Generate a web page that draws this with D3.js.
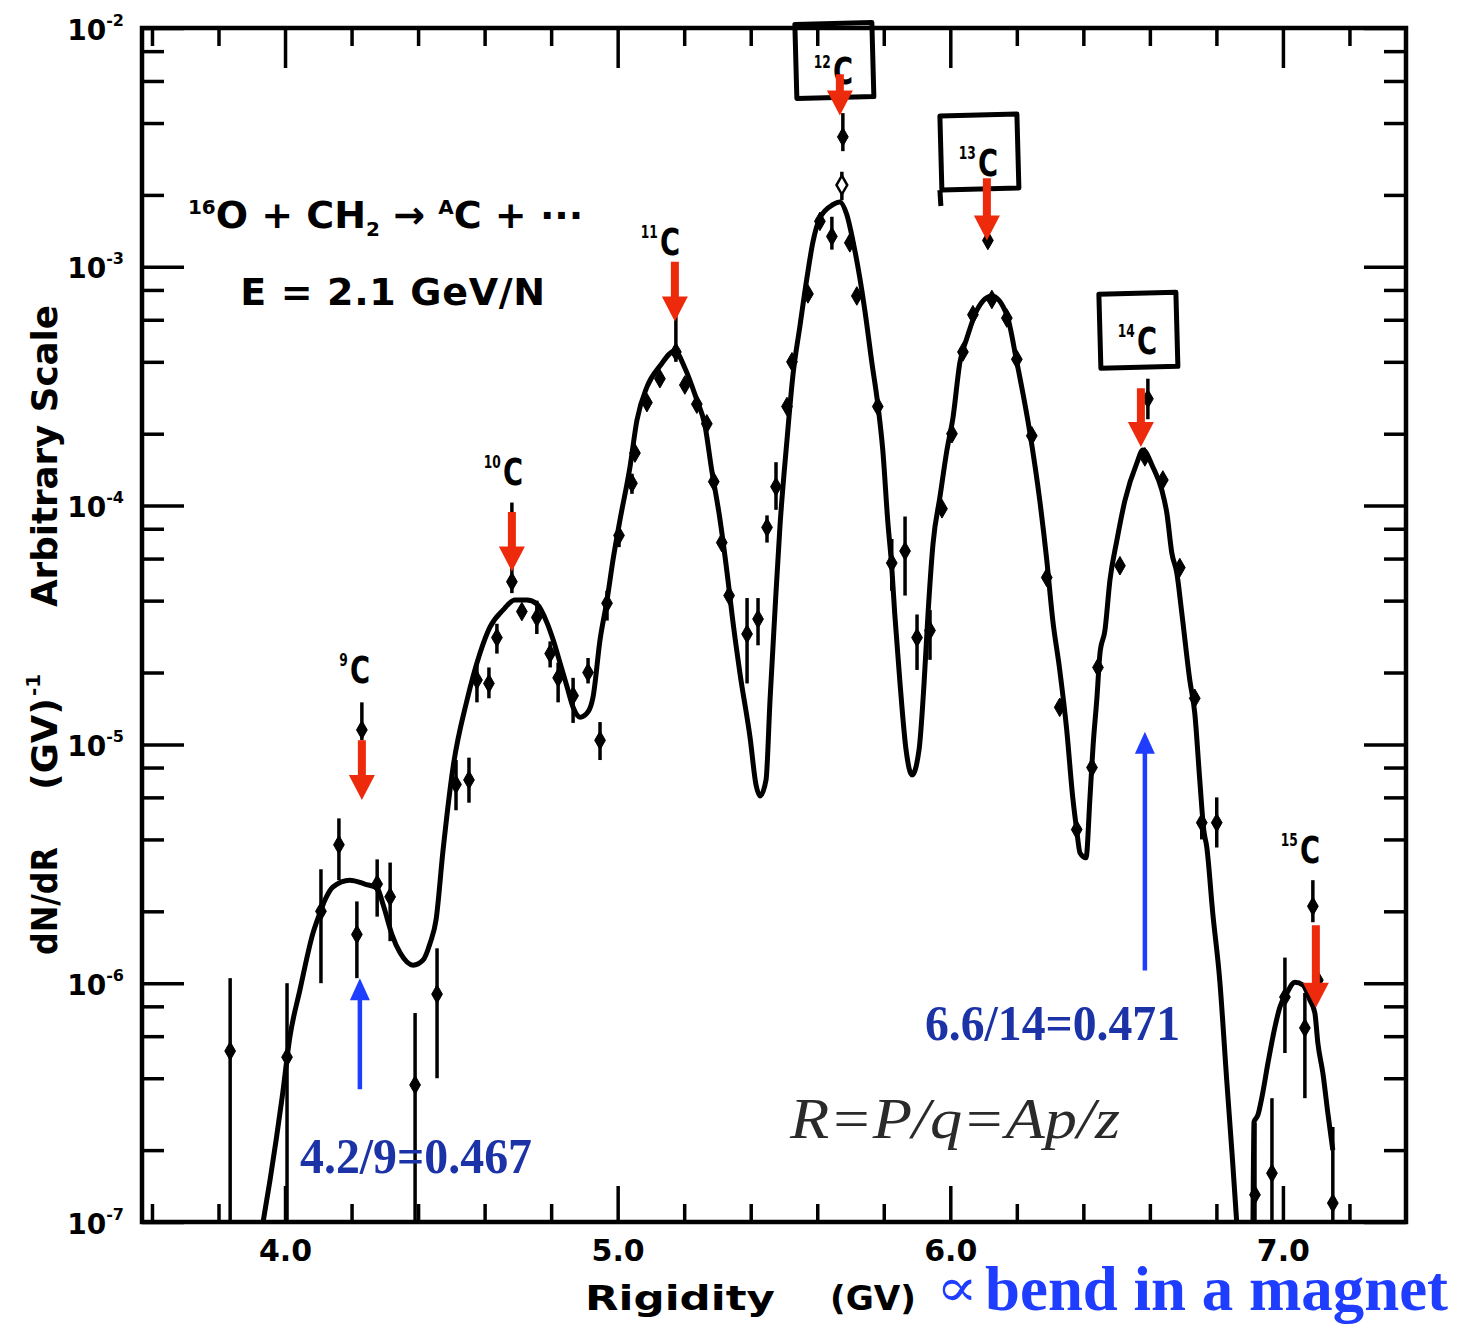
<!DOCTYPE html>
<html>
<head>
<meta charset="utf-8">
<script src="https://cdn.jsdelivr.net/npm/d3@7"></script>
<style>
  body { margin: 0; background: #fff; }
  svg { display: block; }
</style>
</head>
<body>
<div id="chart"></div>
<script>
// ---- data (rigidity in GV, dN/dR arbitrary) ----
const curveR = [3.934,3.955,3.991,4.015,4.045,4.084,4.105,4.120,4.144,4.195,4.240,4.277,4.295,4.322,4.346,4.385,4.415,4.436,4.454,4.475,
  4.505,4.547,4.586,4.616,4.655,4.691,4.727,4.757,4.788,4.806,4.827,4.848,4.866,4.887,4.911,4.926,4.947,4.968,4.986,5.007,
  5.037,5.058,5.088,5.127,5.172,5.202,5.238,5.262,5.283,5.307,5.332,5.344,5.368,5.398,5.416,5.428,5.446,5.458,5.473,5.488,
  5.509,5.527,5.548,5.569,5.587,5.608,5.647,5.668,5.689,5.707,5.728,5.743,5.764,5.782,5.797,5.812,5.824,5.833,5.849,5.867,
  5.885,5.906,5.921,5.933,5.948,5.969,5.990,6.008,6.029,6.050,6.080,6.125,6.170,6.200,6.239,6.269,6.290,6.308,6.329,6.350,
  6.368,6.380,6.390,6.408,6.420,6.429,6.441,6.450,6.465,6.480,6.501,6.525,6.561,6.579,6.609,6.636,6.651,6.666,6.681,6.696,
  6.720,6.735,6.750,6.762,6.771,6.789,6.810,6.831,6.849,6.861];
const curveV = [1.0e-7,1.5e-7,3.3e-7,6.0e-7,9.4e-7,1.62e-6,1.97e-6,2.23e-6,2.53e-6,2.70e-6,2.60e-6,2.50e-6,2.13e-6,1.59e-6,1.34e-6,1.19e-6,1.25e-6,1.47e-6,1.84e-6,3.6e-6,
  8.0e-6,1.53e-5,2.41e-5,3.10e-5,3.65e-5,4.02e-5,4.02e-5,3.87e-5,3.22e-5,2.74e-5,2.19e-5,1.74e-5,1.43e-5,1.30e-5,1.37e-5,1.58e-5,2.74e-5,4.02e-5,5.92e-5,8.71e-5,
  1.45e-4,2.28e-4,3.14e-4,3.84e-4,4.44e-4,3.77e-4,2.77e-4,2.18e-4,1.40e-4,8.87e-5,4.83e-5,3.48e-5,1.97e-5,1.07e-5,6.76e-6,6.08e-6,7.09e-6,1.53e-5,3.65e-5,8.22e-5,
  1.88e-4,3.52e-4,5.65e-4,8.98e-4,1.27e-3,1.60e-3,1.82e-3,1.87e-3,1.65e-3,1.29e-3,8.98e-4,6.59e-4,3.99e-4,2.66e-4,1.71e-4,8.62e-5,5.53e-5,3.52e-5,1.79e-5,9.48e-6,
  7.44e-6,9.48e-6,1.79e-5,3.52e-5,6.91e-5,1.09e-4,1.71e-4,2.33e-4,3.99e-4,5.03e-4,6.59e-4,7.55e-4,6.29e-4,3.99e-4,2.03e-4,1.05e-4,5.92e-5,3.32e-5,2.05e-5,1.15e-5,
  6.02e-6,4.38e-6,3.51e-6,3.35e-6,6.02e-6,9.75e-6,1.58e-5,2.41e-5,3.01e-5,4.88e-5,7.18e-5,1.05e-4,1.51e-4,1.71e-4,1.45e-4,1.16e-4,9.31e-5,6.33e-5,5.22e-5,3.55e-5,
  1.86e-5,1.35e-5,7.09e-6,4.38e-6,3.72e-6,1.97e-6,1.03e-6,3.93e-7,1.77e-7,1.0e-7];

// separate fitted curve under the 15C peak
const c15R = [6.910,6.913,6.925,6.937,6.955,6.976,6.991,7.012,7.036,7.060,7.081,7.096,7.105,7.120,7.135,7.150];
const c15V = [1.0e-7,2.62e-7,2.81e-7,3.34e-7,4.63e-7,6.56e-7,7.95e-7,9.10e-7,1.01e-6,9.83e-7,8.51e-7,7.50e-7,5.62e-7,4.21e-7,2.86e-7,2.0e-7];

// measured points with error bars (null = bar hidden by the marker)
const pointR = [3.835,4.006,4.108,4.162,4.216,4.231,4.277,4.316,4.391,4.457,4.514,4.553,4.577,4.613,4.637,4.682,4.712,4.757,4.797,4.821,
  4.866,4.911,4.947,4.968,5.004,5.043,5.052,5.088,5.127,5.175,5.202,5.238,5.268,5.289,5.313,5.335,5.389,5.422,5.449,5.476,
  5.509,5.524,5.572,5.608,5.644,5.674,5.677,5.698,5.719,5.782,5.824,5.864,5.900,5.939,5.975,6.005,6.038,6.068,6.125,6.113,
  6.170,6.200,6.245,6.290,6.329,6.380,6.426,6.444,6.510,6.585,6.594,6.639,6.690,6.735,6.756,6.801,7.090,7.006,7.066,6.916,
  6.967,7.150,7.105];
const pointV = [5.2e-7,4.9e-7,2.0e-6,3.8e-6,1.6e-6,1.15e-5,2.6e-6,2.3e-6,3.75e-7,9.0e-7,6.8e-6,7.1e-6,1.86e-5,1.8e-5,2.8e-5,4.8e-5,3.6e-5,3.4e-5,2.4e-5,1.9e-5,
  1.6e-5,2.0e-5,1.04e-5,3.9e-5,7.5e-5,1.24e-4,1.66e-4,2.7e-4,3.4e-4,4.4e-4,3.2e-4,2.66e-4,2.2e-4,1.26e-4,7.0e-5,4.2e-5,2.9e-5,3.35e-5,8.1e-5,1.2e-4,
  2.6e-4,4.0e-4,7.7e-4,1.55e-3,1.34e-3,2.2e-3,3.5e-3,1.26e-3,7.55e-4,2.6e-4,5.75e-5,6.45e-5,2.8e-5,3.0e-5,9.7e-5,2.0e-4,4.4e-4,6.3e-4,7.3e-4,1.29e-3,
  6.1e-4,4.1e-4,1.96e-4,5.0e-5,1.43e-5,4.4e-6,8.0e-6,2.1e-5,5.6e-5,1.6e-4,2.8e-4,1.28e-4,5.5e-5,1.56e-5,4.7e-6,4.7e-6,2.1e-6,8.75e-7,6.5e-7,1.3e-7,
  1.6e-7,1.2e-7,1.03e-6];
const barTop = [1.05e-6,1.0e-6,3.0e-6,4.9e-6,2.2e-6,1.5e-5,3.3e-6,3.2e-6,7.5e-7,1.4e-6,8.6e-6,8.8e-6,2.2e-5,2.1e-5,3.2e-5,1.03e-4,null,4.0e-5,2.7e-5,2.2e-5,
  1.9e-5,2.3e-5,1.24e-5,4.4e-5,8.1e-5,1.36e-4,null,null,null,8.8e-4,null,null,null,null,null,null,4.1e-5,4.1e-5,9.1e-5,1.52e-4,
  null,null,null,null,1.62e-3,2.5e-3,4.4e-3,null,null,null,7.25e-5,9.0e-5,3.5e-5,3.65e-5,null,null,null,null,null,null,
  null,null,null,null,null,null,null,null,null,null,3.4e-4,null,null,null,5.3e-6,6.0e-6,2.7e-6,1.28e-6,9.1e-7,2.6e-7,
  3.3e-7,2.5e-7,null];
const barBottom = [1.0e-7,1.0e-7,1.0e-6,2.7e-6,1.05e-6,1.04e-5,1.9e-6,1.5e-6,1.0e-7,4.0e-7,5.3e-6,5.7e-6,1.5e-5,1.56e-5,2.4e-5,4.3e-5,null,2.9e-5,2.1e-5,1.5e-5,
  1.23e-5,1.8e-5,8.6e-6,3.3e-5,6.7e-5,1.12e-4,null,null,null,4.0e-4,null,null,null,null,null,null,1.8e-5,2.6e-5,7.0e-5,9.6e-5,
  null,null,null,null,1.18e-3,1.9e-3,3.05e-3,null,null,null,4.4e-5,4.2e-5,2.05e-5,2.26e-5,null,null,null,null,null,null,
  null,null,null,null,null,null,null,null,null,null,2.3e-4,null,null,null,4.0e-6,3.7e-6,1.8e-6,5.1e-7,3.3e-7,1.0e-7,
  1.0e-7,1.0e-7,null];
const openPoints = [45];   // index of the hollow marker below the 12C point

// axes
const xMajor = [4.0, 5.0, 6.0, 7.0];
const xMinor = [3.6,3.8,4.2,4.4,4.6,4.8,5.2,5.4,5.6,5.8,6.2,6.4,6.6,6.8,7.2];
const yMajor = [1e-7, 1e-6, 1e-5, 1e-4, 1e-3, 1e-2];
const yExp = ["7", "6", "5", "4", "3", "2"];
const yMinor = [2e-7,4e-7,6e-7,8e-7,2e-6,4e-6,6e-6,8e-6,2e-5,4e-5,6e-5,8e-5,2e-4,4e-4,6e-4,8e-4,2e-3,4e-3,6e-3,8e-3];

// carbon isotope labels and red arrows
const isoMass = ["9", "10", "11", "12", "13", "14", "15"];
const isoLabelR = [4.225, 4.685, 5.157, 5.677, 6.113, 6.591, 7.081];
const isoLabelV = [1.8e-5, 1.22e-4, 1.12e-3, 5.8e-3, 2.4e-3, 4.3e-4, 3.2e-6];
const isoBoxed = [false, false, false, true, true, true, false];
const redR = [4.231, 4.682, 5.172, 5.668, 6.110, 6.573, 7.099];
const redTop = [1.04e-5, 9.4e-5, 1.05e-3, 6.4e-3, 2.35e-3, 3.1e-4, 1.75e-6];
const redTip = [5.85e-6, 5.3e-5, 5.9e-4, 4.3e-3, 1.29e-3, 1.76e-4, 7.9e-7];

// blue ratio notes
const blueR = [4.225, 6.585];
const blueBase = [3.6e-7, 1.13e-6];
const blueTip = [1.05e-6, 1.13e-5];
const ratioText = ["4.2/9=0.467", "6.6/14=0.471"];
const ratioR = [4.045, 5.924];
const ratioV = [1.6e-7, 5.8e-7];

// ---- layout ----
const W = 1458, H = 1324;
const margin = {top: 28, right: 52, bottom: 102, left: 142};
const width = W - margin.left - margin.right,
      height = H - margin.top - margin.bottom;
const sans = "'DejaVu Sans', Verdana, sans-serif";
const serif = "'Liberation Serif', 'Times New Roman', serif";

const svg = d3.select("#chart").append("svg")
  .attr("width", W).attr("height", H)
  .style("background", "#fff");
const g = svg.append("g").attr("transform", `translate(${margin.left},${margin.top})`);

const x = d3.scaleLinear().domain([3.57, 7.37]).range([0, width]);
const y = d3.scaleLog().domain([1e-7, 1e-2]).range([height, 0]);

// ticks on all four sides, pointing inward
function ticks(axis, tf) {
  const a = g.append("g").attr("class", "axis").attr("transform", tf || null).call(axis);
  a.select(".domain").remove();
  a.selectAll("line").attr("stroke", "#000").attr("stroke-width", 3.5);
  return a;
}
ticks(d3.axisBottom(x).tickValues(xMinor).tickSize(-18).tickFormat(""), `translate(0,${height})`);
const xb = ticks(d3.axisBottom(x).tickValues(xMajor).tickSize(-36).tickPadding(18).tickFormat(d3.format(".1f")), `translate(0,${height})`);
xb.selectAll("text").attr("font-family", sans).attr("font-weight", "bold").attr("font-size", 30).attr("fill", "#000");
ticks(d3.axisTop(x).tickValues(xMinor).tickSize(-18).tickFormat(""));
ticks(d3.axisTop(x).tickValues(xMajor).tickSize(-40).tickFormat(""));
ticks(d3.axisLeft(y).tickValues(yMinor).tickSize(-22).tickFormat(""));
const yl = ticks(d3.axisLeft(y).tickValues(yMajor).tickSize(-42).tickFormat(""));
ticks(d3.axisRight(y).tickValues(yMinor).tickSize(-22).tickFormat(""), `translate(${width},0)`);
ticks(d3.axisRight(y).tickValues(yMajor).tickSize(-42).tickFormat(""), `translate(${width},0)`);

// decade labels 10^-n
yl.selectAll(".tick").each(function(d, i) {
  const t = d3.select(this).append("text")
    .attr("x", -18).attr("y", 11)
    .attr("text-anchor", "end")
    .attr("font-family", sans).attr("font-weight", "bold")
    .attr("font-size", 28).attr("fill", "#000");
  t.append("tspan").text("10");
  t.append("tspan").attr("font-size", 16).attr("dy", -14).text("-" + yExp[i]);
});

// frame
g.append("rect").attr("width", width).attr("height", height)
  .attr("fill", "none").attr("stroke", "#000").attr("stroke-width", 4.5);

// fitted curves
const line = d3.line().x(d => x(d[0])).y(d => y(d[1])).curve(d3.curveMonotoneX);
g.append("path").datum(d3.zip(curveR, curveV))
  .attr("d", line).attr("fill", "none").attr("stroke", "#000")
  .attr("stroke-width", 5).attr("stroke-linejoin", "round");
g.append("path").datum(d3.zip(c15R, c15V))
  .attr("d", line).attr("fill", "none").attr("stroke", "#000")
  .attr("stroke-width", 5).attr("stroke-linejoin", "round");

// error bars
const pts = pointR.map((r, i) => ({r, v: pointV[i], hi: barTop[i], lo: barBottom[i], open: openPoints.includes(i)}));
g.append("g").selectAll("line").data(pts.filter(d => d.hi !== null)).enter().append("line")
  .attr("x1", d => x(d.r)).attr("x2", d => x(d.r))
  .attr("y1", d => y(d.hi)).attr("y2", d => y(d.lo))
  .attr("stroke", "#000").attr("stroke-width", 3.5);

// markers
g.append("g").selectAll("path").data(pts).enter().append("path")
  .attr("transform", d => `translate(${x(d.r)},${y(d.v)})`)
  .attr("d", d3.symbol(d3.symbolDiamond).size(100))
  .attr("fill", d => d.open ? "#fff" : "#000")
  .attr("stroke", "#000").attr("stroke-width", d => d.open ? 2.5 : 1);

// isotope labels (superscript mass number + condensed C)
const lab = g.append("g").attr("font-family", sans).attr("font-weight", "bold").attr("fill", "#000");
isoMass.forEach((m, i) => {
  const cx = x(isoLabelR[i]), by = y(isoLabelV[i]);
  const sw = m.length * 17 * 0.696 * 0.72;      // width of the superscript after squeezing
  const t = lab.append("text")
    .attr("transform", `translate(${cx - 10 - sw - 2},${by}) scale(0.72,1)`);
  t.append("tspan").attr("font-size", 17).attr("dy", -17).text(m);
  t.append("tspan").attr("font-size", 38).attr("dx", 3).attr("dy", 17).text("C");
  if (isoBoxed[i]) {
    const flag = m === "13";
    const p = d3.path();
    p.moveTo(cx - 48, by - 60);
    p.lineTo(cx + 29, by - 62);
    p.lineTo(cx + 31, by + 12);
    p.lineTo(cx - 46, by + 14);
    p.closePath();
    if (flag) { p.moveTo(cx - 48, by + 14); p.lineTo(cx - 47, by + 30); }
    lab.append("path").attr("d", p.toString()).attr("fill", "none")
      .attr("stroke", "#000").attr("stroke-width", 5).attr("stroke-linejoin", "round");
  }
});

// reaction text
const rx = x(3.708), ry = y(1.45e-3);
const rt = g.append("text").attr("x", rx).attr("y", ry)
  .attr("font-family", sans).attr("font-weight", "bold").attr("font-size", 38).attr("fill", "#000");
rt.append("tspan").attr("font-size", 20).attr("dy", -14).text("16");
rt.append("tspan").attr("dy", 14).text("O + CH");
rt.append("tspan").attr("font-size", 20).attr("dy", 8).text("2");
rt.append("tspan").attr("dy", -8).text(" \u2192 ");
rt.append("tspan").attr("font-size", 20).attr("dy", -14).text("A");
rt.append("tspan").attr("dy", 14).text("C + \u00b7\u00b7\u00b7");
g.append("text").attr("x", x(3.865)).attr("y", y(6.9e-4))
  .attr("font-family", sans).attr("font-weight", "bold").attr("font-size", 38).attr("fill", "#000")
  .attr("textLength", 305).attr("lengthAdjust", "spacing")
  .text("E = 2.1 GeV/N");

// arrows
function arrow(px, yBase, yTip, sw, hw, hl) {
  const s = yTip > yBase ? 1 : -1, yh = yTip - s * hl;
  return `M${px - sw / 2},${yBase}L${px + sw / 2},${yBase}L${px + sw / 2},${yh}L${px + hw / 2},${yh}` +
         `L${px},${yTip}L${px - hw / 2},${yh}L${px - sw / 2},${yh}Z`;
}
redR.forEach((r, i) => {
  g.append("path").attr("d", arrow(x(r), y(redTop[i]), y(redTip[i]), 8, 26, 25)).attr("fill", "#ee2a0c");
});
blueR.forEach((r, i) => {
  g.append("path").attr("d", arrow(x(r), y(blueBase[i]), y(blueTip[i]), 4.5, 20, 22)).attr("fill", "#1f3dff");
});
ratioText.forEach((t, i) => {
  g.append("text").attr("x", x(ratioR[i])).attr("y", y(ratioV[i]))
    .attr("font-family", serif).attr("font-weight", "bold").attr("font-size", 50)
    .attr("fill", "#1b33a6").attr("textLength", i === 0 ? 232 : 255).attr("lengthAdjust", "spacingAndGlyphs")
    .text(t);
});
g.append("text").attr("x", x(5.518)).attr("y", y(2.25e-7))
  .attr("font-family", serif).attr("font-style", "italic").attr("font-size", 58)
  .attr("fill", "#2a2a2a").attr("textLength", 330).attr("lengthAdjust", "spacingAndGlyphs")
  .text("R=P/q=Ap/z");

// axis titles
const yt = svg.append("g").attr("font-family", sans).attr("font-weight", "bold").attr("fill", "#000");
[["dN/dR", 955, 108], ["(GV)", 790, 92], ["Arbitrary Scale", 607, 302]].forEach(([s, y0, len]) => {
  yt.append("text").attr("transform", `translate(57,${y0}) rotate(-90)`)
    .attr("font-size", 36).attr("textLength", len).attr("lengthAdjust", "spacingAndGlyphs").text(s);
});
yt.append("text").attr("transform", `translate(40,696) rotate(-90)`)
  .attr("font-size", 20).text("-1");

const xt = svg.append("g").attr("font-family", sans).attr("font-weight", "bold").attr("fill", "#000");
xt.append("text").attr("x", 585).attr("y", 1310).attr("font-size", 34)
  .attr("textLength", 190).attr("lengthAdjust", "spacingAndGlyphs").text("Rigidity");
xt.append("text").attr("x", 830).attr("y", 1310).attr("font-size", 34)
  .attr("textLength", 86).attr("lengthAdjust", "spacingAndGlyphs").text("(GV)");

svg.append("text").attr("x", 936).attr("y", 1306)
  .attr("font-family", "'DejaVu Serif', serif").attr("font-size", 54).attr("fill", "#1f3dff")
  .attr("textLength", 42).attr("lengthAdjust", "spacingAndGlyphs").text("\u221d");
svg.append("text").attr("x", 985).attr("y", 1310)
  .attr("font-family", serif).attr("font-weight", "bold").attr("font-size", 64).attr("fill", "#1f3dff")
  .attr("textLength", 463).attr("lengthAdjust", "spacingAndGlyphs").text("bend in a magnet");
</script>
</body>
</html>
